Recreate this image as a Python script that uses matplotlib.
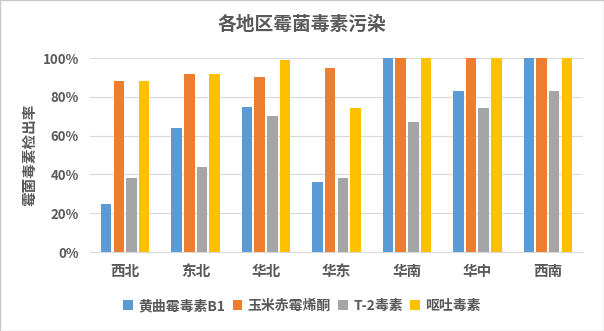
import matplotlib
matplotlib.use('AGG')
import matplotlib.pyplot as plt
import numpy as np
from matplotlib.ticker import PercentFormatter

plt.rcParams['font.family'] = ['Noto Sans CJK SC', 'DejaVu Sans']

#%% data
regions = ['西北', '东北', '华北', '华东', '华南', '华中', '西南']
series_names = ['黄曲霉毒素B1', '玉米赤霉烯酮', 'T-2毒素', '呕吐毒素']
afb1 = [25, 64, 75, 36, 100, 83, 100]
zen = [88, 92, 90, 95, 100, 100, 100]
t2 = [38, 44, 70, 38, 67, 74, 83]
don = [88, 92, 99, 74, 100, 100, 100]
colors = ['#5B9BD5', '#ED7D31', '#A5A5A5', '#FFC000']

values = [afb1, zen, t2, don]
txtc = '#595959'

#%% plot
fig = plt.figure(figsize=(6.04, 3.31), dpi=100)
ax = fig.add_axes([90/604, 1-252/331, 493/604, 194/331])

x = np.arange(len(regions))
step = 0.18
width = 0.149
for ii in range(len(values)):
    ax.bar(x + (ii-1.5)*step, values[ii], width=width, color=colors[ii],
           label=series_names[ii], zorder=3)

ax.set_xlim(-0.5, len(regions)-0.5)
ax.set_ylim(0, 100)
ax.set_yticks(np.arange(0, 101, 20))
ax.yaxis.set_major_formatter(PercentFormatter(decimals=0))
ax.grid(axis='y', color='#D9D9D9', linewidth=0.8, zorder=0)
for s in ['top', 'right', 'left']:
    ax.spines[s].set_visible(False)
ax.spines['bottom'].set_color('#D9D9D9')
ax.set_xticks(x)
ax.set_xticklabels(regions, fontsize=10.5, fontweight='bold', color=txtc)
ax.tick_params(axis='x', length=0, pad=8)
ax.tick_params(axis='y', length=0, pad=8, labelsize=9.5, labelcolor=txtc)
for lab in ax.get_yticklabels():
    lab.set_fontweight('bold')
ax.set_ylabel('霉菌毒素检出率', fontsize=10.5, fontweight='bold', color=txtc)
ax.yaxis.set_label_coords(-0.107, 0.5)

fig.text(0.5, 1-24/331, '各地区霉菌毒素污染', ha='center', va='center',
         fontsize=13.5, fontweight='bold', color=txtc)

leg = fig.legend(loc='center', bbox_to_anchor=(0.5, 1-306/331), ncol=4, frameon=False,
                 fontsize=10, handlelength=0.7, handleheight=0.7, handletextpad=0.4,
                 columnspacing=0.5)
for t in leg.get_texts():
    t.set_color(txtc)
    t.set_fontweight('bold')

fig.patches.append(plt.Rectangle((0, 0), 1, 1, transform=fig.transFigure,
                                 fill=False, edgecolor='#C8C8C8', linewidth=1))

fig.savefig('out.png', dpi=100)
